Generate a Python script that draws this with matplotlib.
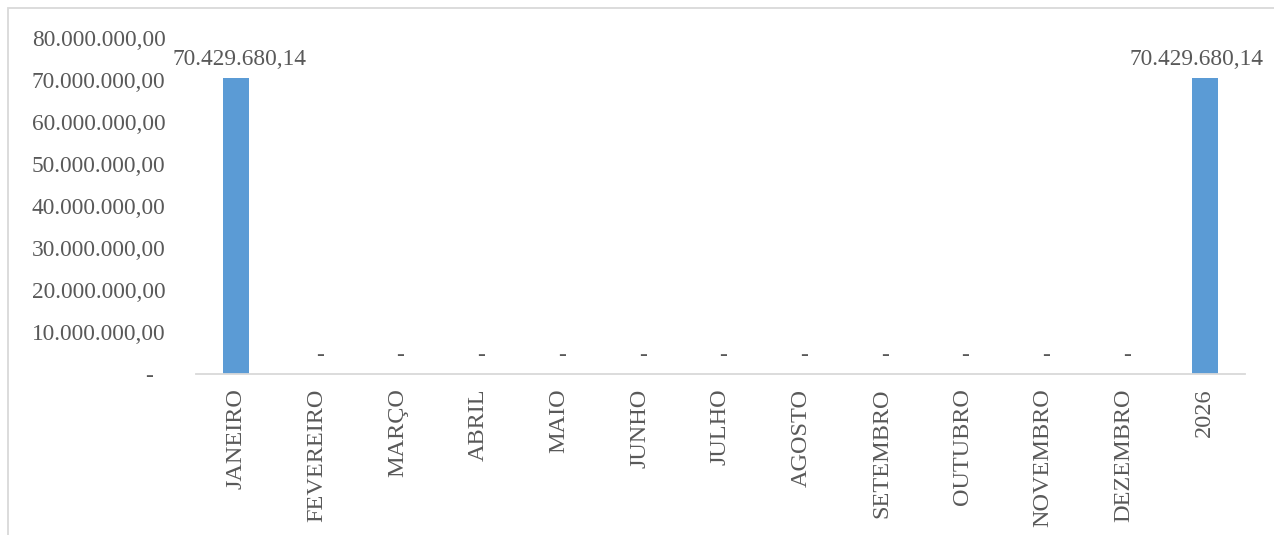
import matplotlib
matplotlib.use("Agg")
import matplotlib.pyplot as plt
from matplotlib.patches import Rectangle
from matplotlib.ticker import FuncFormatter

categories = ["JANEIRO", "FEVEREIRO", "MARÇO", "ABRIL", "MAIO", "JUNHO", "JULHO",
              "AGOSTO", "SETEMBRO", "OUTUBRO", "NOVEMBRO", "DEZEMBRO", "2026"]
values = [70429680.14, 0, 0, 0, 0, 0, 0, 0, 0, 0, 0, 0, 70429680.14]
y_ticks = [0, 10e6, 20e6, 30e6, 40e6, 50e6, 60e6, 70e6, 80e6]

plt.rcParams['font.family'] = ['Liberation Serif', 'DejaVu Serif']
TXT = "#595959"

def br(v):
    if v == 0:
        return "-"
    s = f"{v:,.2f}"
    return s.replace(",", "X").replace(".", ",").replace("X", ".")

W, H = 1274, 535
fig = plt.figure(figsize=(W / 100, H / 100), dpi=100)
# outer chart border (cropped on right and bottom)
fig.patches.append(Rectangle((8 / W, -0.1), 1.2, 1 - 8 / H + 0.1, transform=fig.transFigure,
                             fill=False, edgecolor="#D9D9D9", linewidth=1.3))

ax = fig.add_axes([196 / W, 161 / H, (1245 - 196) / W, (497 - 161) / H])
x = list(range(len(categories)))
ax.bar(x, values, width=0.32, color="#5B9BD5")
ax.set_xlim(-0.5, len(categories) - 0.5)
ax.set_ylim(0, 80e6)
ax.set_yticks(y_ticks)
ax.yaxis.set_major_formatter(FuncFormatter(lambda v, p: "-  " if v == 0 else br(v)))
ax.set_xticks(x)
ax.set_xticklabels(categories, rotation=90)
ax.tick_params(axis='y', length=0, pad=22, labelsize=16.8, labelcolor=TXT)
ax.tick_params(axis='x', length=0, pad=10.5, labelsize=17.5, labelcolor=TXT)
for s in ["top", "right", "left"]:
    ax.spines[s].set_visible(False)
ax.spines["bottom"].set_color("#D9D9D9")
ax.spines["bottom"].set_linewidth(1.3)

for i, v in enumerate(values):
    dx = -6 if i == len(values) - 1 else 2
    ax.annotate(br(v), (i, v), xytext=(dx, 6), textcoords="offset points",
                ha="center", va="bottom", fontsize=16.8, color=TXT)

fig.savefig("out.png", dpi=100)
